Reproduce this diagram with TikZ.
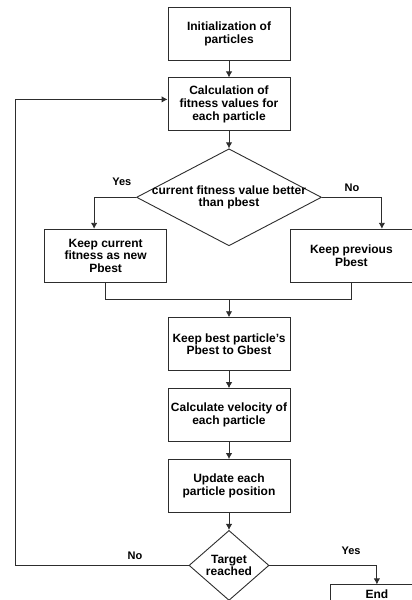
\documentclass[tikz,border=0pt]{standalone}
\usepackage{fontspec}
\setmainfont{Liberation Sans}
\usepackage{tikz}
\usetikzlibrary{shapes,arrows,arrows.meta,positioning}
\definecolor{edgegray}{RGB}{45, 45, 45}
\tikzstyle{stepbox} = [rectangle, draw=edgegray, line width=0.9pt, fill=white, text=black, align=center, font=\bfseries\fontsize{12}{12.8}\selectfont, minimum width=122pt, minimum height=53pt, inner sep=2pt]
\tikzstyle{decision} = [diamond, draw=edgegray, line width=0.9pt, fill=white, inner sep=0pt]
\tikzstyle{dtext} = [align=center, text=black, font=\bfseries\fontsize{12}{12.8}\selectfont, inner sep=0pt]
\tikzstyle{answer} = [text=black, font=\bfseries\fontsize{11}{12}\selectfont, inner sep=0pt]
\tikzstyle{tedge}  = [draw=edgegray, line width=0.9pt, >={Latex[length=6pt,width=6.5pt]}, ->]
\tikzstyle{plain}  = [draw=edgegray, line width=0.9pt]

\begin{document}
\begin{tikzpicture}[x=1pt, y=1pt]

\path[use as bounding box, clip] (0,0) rectangle (412,-600);

% steps =============================

% start
\node[stepbox] (init) at (229,-33.5) {Initialization of\\particles};
\node[stepbox, below=17pt of init] (calc) {Calculation of\\fitness values for\\each particle};

% pbest test
\node[decision, minimum width=185pt, minimum height=97pt, below=17pt of calc,
      label={[dtext]center:{current fitness value better\\than pbest}}] (better) {};
\node[stepbox, below left=31.5pt and -31pt of better.west] (keepnew) {Keep current\\fitness as new\\Pbest};
\node[stepbox, below right=31.5pt and -32pt of better.east] (keepold) {Keep previous\\Pbest};

% update
\node[stepbox, below=71pt of better] (gbest) {Keep best particle's\\Pbest to Gbest};
\node[stepbox, below=17pt of gbest] (vel) {Calculate velocity of\\each particle};
\node[stepbox, below=17pt of vel] (upd) {Update each\\particle position};

% stop test
\node[decision, minimum width=80pt, minimum height=70pt, below=17pt of upd,
      label={[dtext]center:{Target\\reached}}] (target) {};
\node[stepbox, minimum width=92pt, minimum height=19pt, inner sep=1pt, below right=19pt and 61pt of target.east] (finish) {End};

\coordinate[above=18pt of gbest] (merge);
\coordinate[left=173pt of target.west] (back);


%edges

\path[tedge] (init) -- (calc);
\path[tedge] (calc) -- (better);


\path[tedge] (better.west) -| node[answer, pos=0.17, above=11pt] {Yes} ([xshift=-11.5pt]keepnew.north);
\path[tedge] (better.east) -| node[answer, pos=0.25, above=5pt] {No} ([xshift=30.5pt]keepold.north);


\path[plain] (keepnew.south) |- (merge) -| (keepold.south);
\path[tedge] (merge) -- (gbest);


\path[tedge] (gbest) -- (vel);
\path[tedge] (vel) -- (upd);
\path[tedge] (upd) -- (target);


% loop back and finish
\path[tedge] (target.west) -- node[answer, pos=0.31, above=5pt] {No} (back) |- ([yshift=5pt]calc.west);
\path[tedge] (target.east) -| node[answer, pos=0.38, above=10pt] {Yes} (finish);

\end{tikzpicture}
\end{document}
